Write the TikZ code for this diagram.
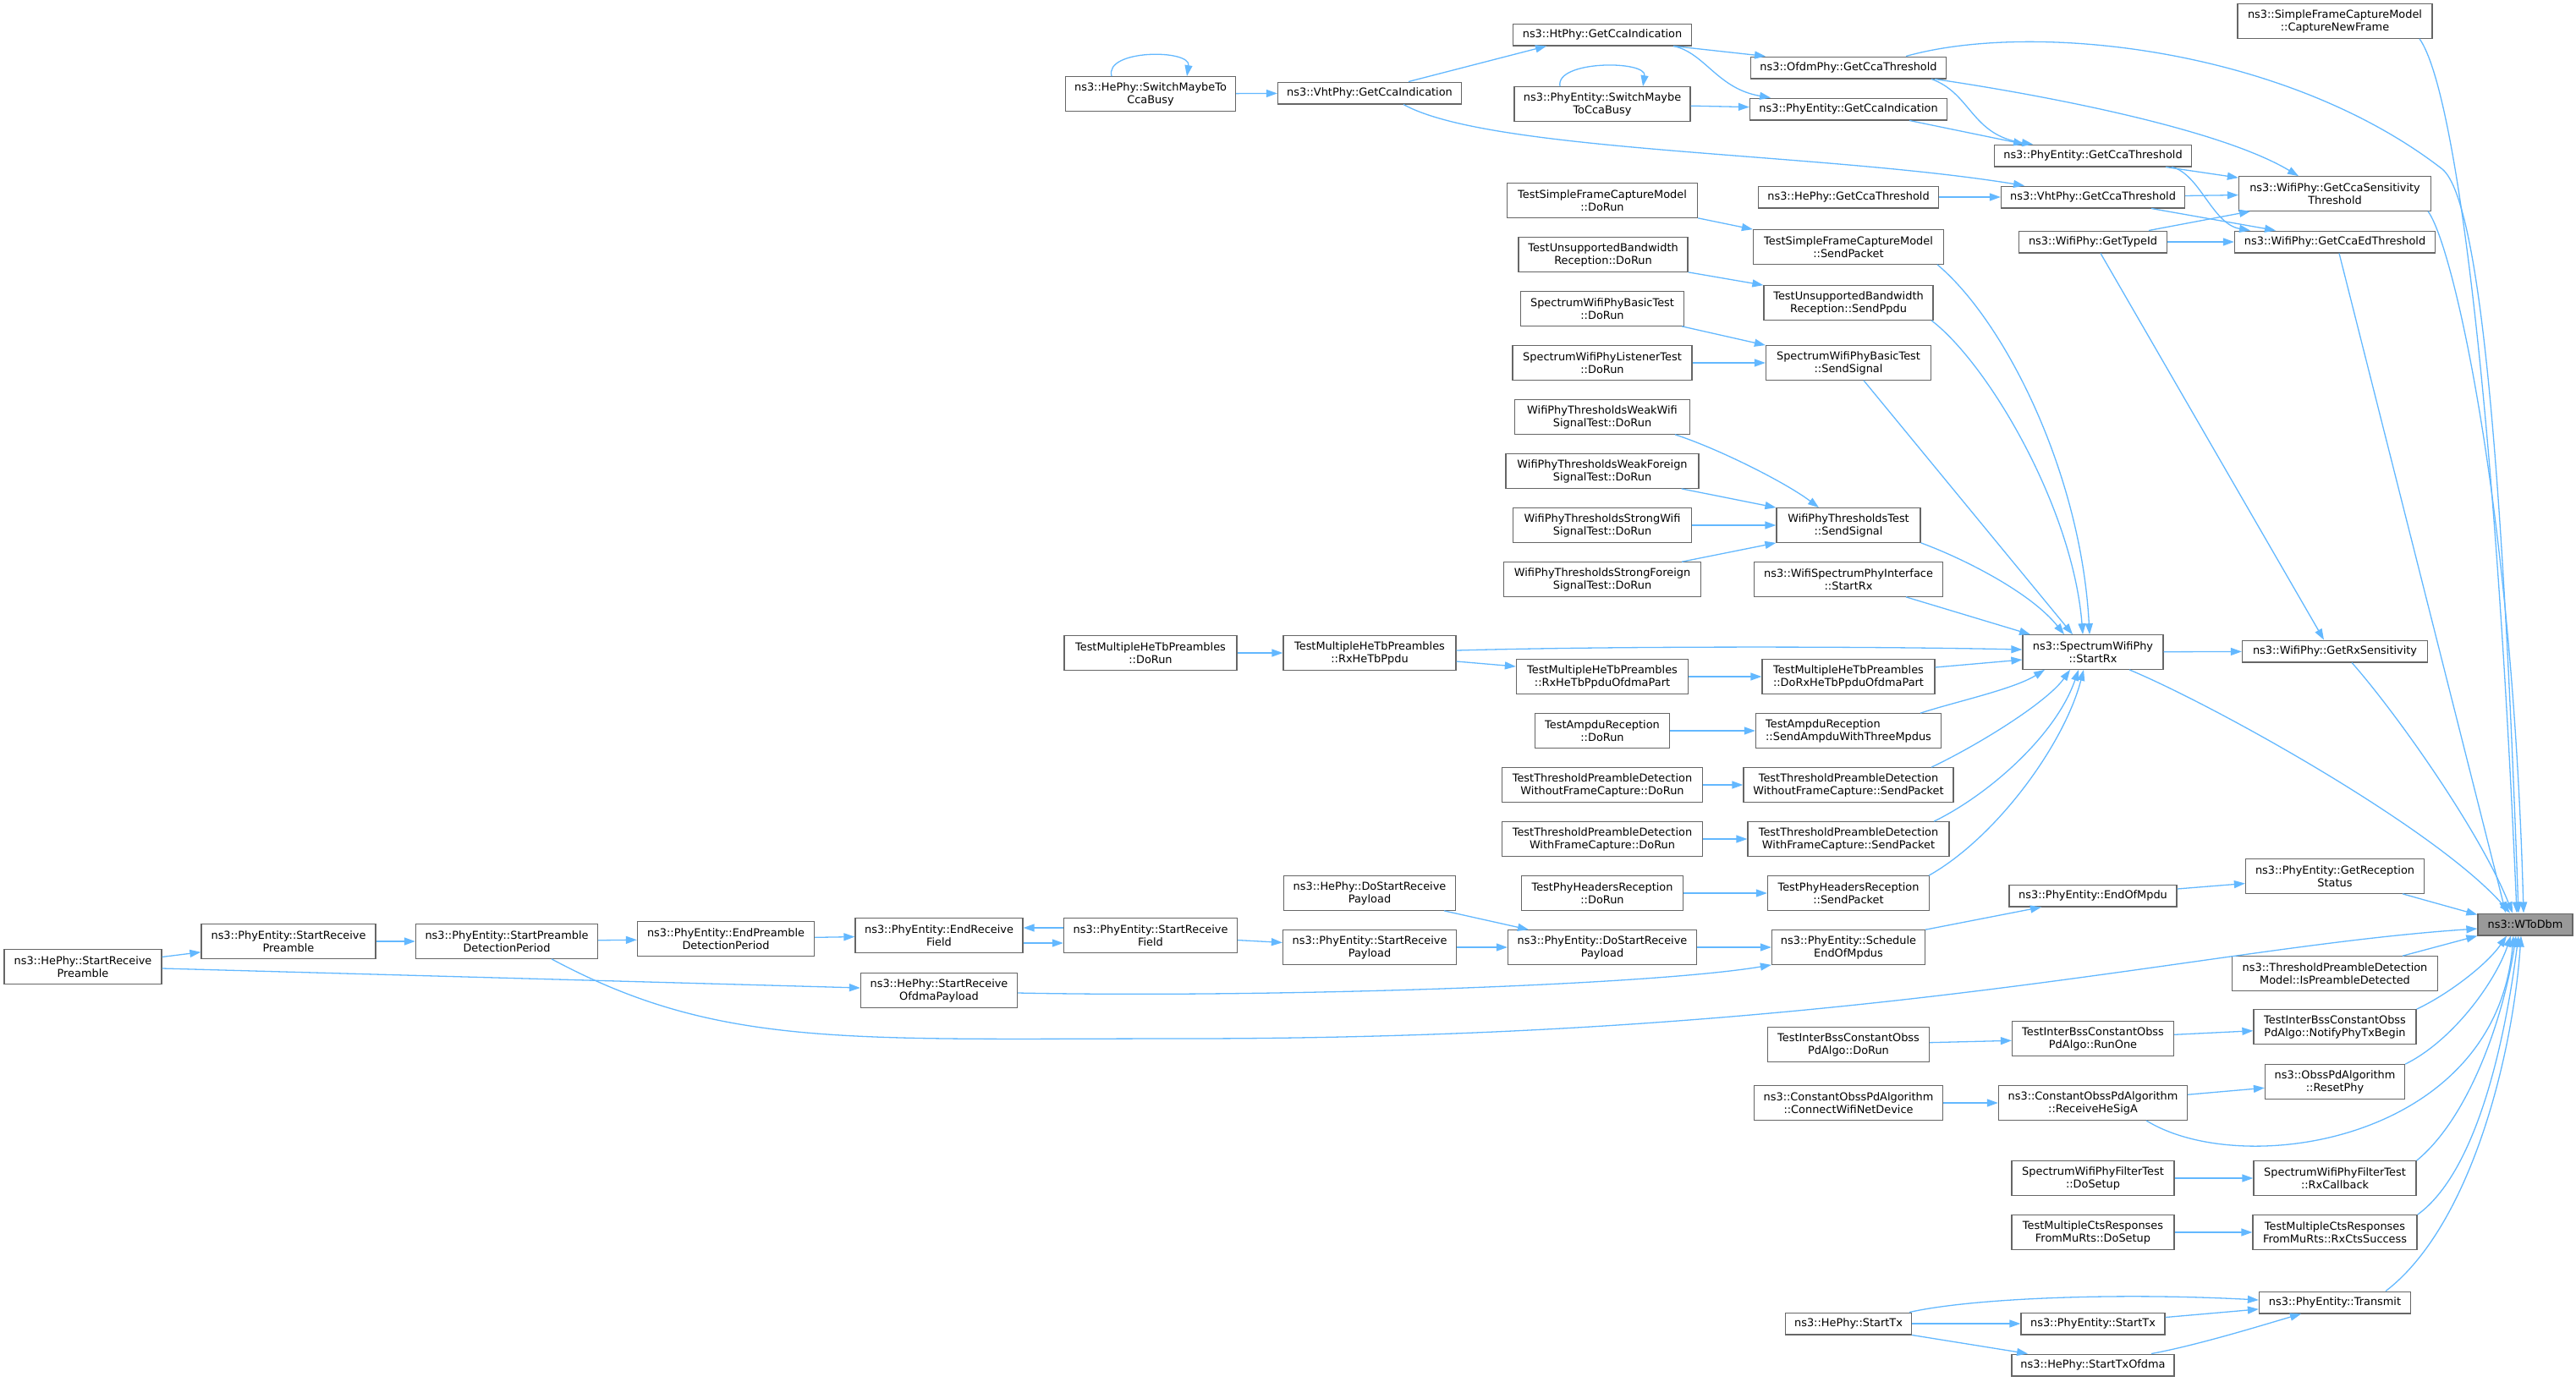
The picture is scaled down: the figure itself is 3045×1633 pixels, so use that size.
\documentclass[tikz,border=0pt]{standalone}
\usepackage{fontspec}
\setmainfont{DejaVu Sans}
\usetikzlibrary{arrows.meta}
\definecolor{edgeblue}{HTML}{63B8FF}
\definecolor{boxline}{HTML}{666666}
\definecolor{rootfill}{HTML}{999999}
\begin{document}
\begin{tikzpicture}[x=1pt,y=-1pt,>={Triangle[length=13pt,width=9pt]},
  fnbox/.style={draw=boxline,line width=1.3pt,fill=white,inner sep=0pt,minimum height=25.7pt,align=center,font=\fontsize{12.9}{15}\selectfont},
  fnbox2/.style={fnbox,minimum height=40.4pt},
  rootbox/.style={fnbox,fill=rootfill},
  calls/.style={->,draw=edgeblue,line width=1.3pt}]
\useasboundingbox (0,0) rectangle (3045,1633);
\node[fnbox2,minimum width=201pt] (sw_he) at (1360,111) {ns3::HePhy::SwitchMaybeTo\\CcaBusy};
\node[fnbox,minimum width=217pt] (vht_ind) at (1619,110) {ns3::VhtPhy::GetCcaIndication};
\node[fnbox,minimum width=211pt] (ht_ind) at (1894,41) {ns3::HtPhy::GetCcaIndication};
\node[fnbox2,minimum width=208pt] (sw_pe) at (1894,123) {ns3::PhyEntity::SwitchMaybe\\ToCcaBusy};
\node[fnbox,minimum width=231pt] (ofdm_thr) at (2185,80) {ns3::OfdmPhy::GetCcaThreshold};
\node[fnbox,minimum width=233pt] (pe_ind) at (2185,129) {ns3::PhyEntity::GetCcaIndication};
\node[fnbox,minimum width=233pt] (pe_thr) at (2474,184) {ns3::PhyEntity::GetCcaThreshold};
\node[fnbox2,minimum width=230pt] (capture) at (2760,25) {ns3::SimpleFrameCaptureModel\\::CaptureNewFrame};
\node[fnbox2,minimum width=227pt] (ccasens) at (2760,229) {ns3::WifiPhy::GetCcaSensitivity\\Threshold};
\node[fnbox,minimum width=213pt] (he_thr) at (2185,233) {ns3::HePhy::GetCcaThreshold};
\node[fnbox,minimum width=217pt] (vht_thr) at (2474,233) {ns3::VhtPhy::GetCcaThreshold};
\node[fnbox,minimum width=175pt] (typeid) at (2474,286) {ns3::WifiPhy::GetTypeId};
\node[fnbox,minimum width=237pt] (ccaed) at (2760,286) {ns3::WifiPhy::GetCcaEdThreshold};
\node[fnbox2,minimum width=225pt] (sfc_run) at (1894,237) {TestSimpleFrameCaptureModel\\::DoRun};
\node[fnbox2,minimum width=225pt] (sfc_send) at (2185,292) {TestSimpleFrameCaptureModel\\::SendPacket};
\node[fnbox2,minimum width=200pt] (ubw_run) at (1895,301) {TestUnsupportedBandwidth\\Reception::DoRun};
\node[fnbox2,minimum width=200pt] (ubw_send) at (2185,358) {TestUnsupportedBandwidth\\Reception::SendPpdu};
\node[fnbox2,minimum width=193pt] (basic_run) at (1894,365) {SpectrumWifiPhyBasicTest\\::DoRun};
\node[fnbox2,minimum width=212pt] (listen_run) at (1894,429) {SpectrumWifiPhyListenerTest\\::DoRun};
\node[fnbox2,minimum width=195pt] (basic_send) at (2185,429) {SpectrumWifiPhyBasicTest\\::SendSignal};
\node[fnbox2,minimum width=207pt] (weakwifi) at (1894,493) {WifiPhyThresholdsWeakWifi\\SignalTest::DoRun};
\node[fnbox2,minimum width=228pt] (weakfor) at (1894,557) {WifiPhyThresholdsWeakForeign\\SignalTest::DoRun};
\node[fnbox2,minimum width=211pt] (strongwifi) at (1894,621) {WifiPhyThresholdsStrongWifi\\SignalTest::DoRun};
\node[fnbox2,minimum width=233pt] (strongfor) at (1894,685) {WifiPhyThresholdsStrongForeign\\SignalTest::DoRun};
\node[fnbox2,minimum width=170pt] (thr_send) at (2185,621) {WifiPhyThresholdsTest\\::SendSignal};
\node[fnbox2,minimum width=223pt] (wspi) at (2185,685) {ns3::WifiSpectrumPhyInterface\\::StartRx};
\node[fnbox2,minimum width=166pt] (startrx) at (2474,771) {ns3::SpectrumWifiPhy\\::StartRx};
\node[fnbox,minimum width=219pt] (rxsens) at (2760,770) {ns3::WifiPhy::GetRxSensitivity};
\node[fnbox2,minimum width=204pt] (mhe_run) at (1360,772) {TestMultipleHeTbPreambles\\::DoRun};
\node[fnbox2,minimum width=204pt] (mhe_rx) at (1619,772) {TestMultipleHeTbPreambles\\::RxHeTbPpdu};
\node[fnbox2,minimum width=203pt] (mhe_ofdma) at (1894,800) {TestMultipleHeTbPreambles\\::RxHeTbPpduOfdmaPart};
\node[fnbox2,minimum width=204pt] (mhe_dorx) at (2185,800) {TestMultipleHeTbPreambles\\::DoRxHeTbPpduOfdmaPart};
\node[fnbox2,minimum width=159pt] (ampdu_run) at (1894,864) {TestAmpduReception\\::DoRun};
\node[fnbox2,minimum width=219pt,align=left] (ampdu_send) at (2185,864) {TestAmpduReception\\::SendAmpduWithThreeMpdus};
\node[fnbox2,minimum width=237pt] (tpd_wo_run) at (1894,928) {TestThresholdPreambleDetection\\WithoutFrameCapture::DoRun};
\node[fnbox2,minimum width=248pt] (tpd_wo_send) at (2185,928) {TestThresholdPreambleDetection\\WithoutFrameCapture::SendPacket};
\node[fnbox2,minimum width=237pt] (tpd_w_run) at (1894,992) {TestThresholdPreambleDetection\\WithFrameCapture::DoRun};
\node[fnbox2,minimum width=238pt] (tpd_w_send) at (2185,992) {TestThresholdPreambleDetection\\WithFrameCapture::SendPacket};
\node[fnbox2,minimum width=203pt] (he_dsrp) at (1619,1056) {ns3::HePhy::DoStartReceive\\Payload};
\node[fnbox2,minimum width=191pt] (phr_run) at (1894,1056) {TestPhyHeadersReception\\::DoRun};
\node[fnbox2,minimum width=191pt] (phr_send) at (2185,1056) {TestPhyHeadersReception\\::SendPacket};
\node[fnbox,minimum width=198pt] (eom) at (2474,1059) {ns3::PhyEntity::EndOfMpdu};
\node[fnbox2,minimum width=211pt] (recstat) at (2760,1036) {ns3::PhyEntity::GetReception\\Status};
\node[rootbox,minimum width=112pt] (wtodbm) at (2985,1093) {ns3::WToDbm};
\node[fnbox2,minimum width=186pt] (he_srp) at (98,1143) {ns3::HePhy::StartReceive\\Preamble};
\node[fnbox2,minimum width=206pt] (pe_srp) at (341,1113) {ns3::PhyEntity::StartReceive\\Preamble};
\node[fnbox2,minimum width=215pt] (spdp) at (599,1113) {ns3::PhyEntity::StartPreamble\\DetectionPeriod};
\node[fnbox2,minimum width=209pt] (epdp) at (858,1110) {ns3::PhyEntity::EndPreamble\\DetectionPeriod};
\node[fnbox2,minimum width=198pt] (erf) at (1110,1106) {ns3::PhyEntity::EndReceive\\Field};
\node[fnbox2,minimum width=205pt] (srf) at (1360,1106) {ns3::PhyEntity::StartReceive\\Field};
\node[fnbox2,minimum width=205pt] (pe_srpl) at (1619,1120) {ns3::PhyEntity::StartReceive\\Payload};
\node[fnbox2,minimum width=223pt] (pe_dsrp) at (1894,1120) {ns3::PhyEntity::DoStartReceive\\Payload};
\node[fnbox2,minimum width=181pt] (sched) at (2185,1120) {ns3::PhyEntity::Schedule\\EndOfMpdus};
\node[fnbox2,minimum width=185pt] (he_srop) at (1110,1171) {ns3::HePhy::StartReceive\\OfdmaPayload};
\node[fnbox2,minimum width=243pt] (isdet) at (2760,1151) {ns3::ThresholdPreambleDetection\\Model::IsPreambleDetected};
\node[fnbox2,minimum width=192pt] (ib_notify) at (2760,1214) {TestInterBssConstantObss\\PdAlgo::NotifyPhyTxBegin};
\node[fnbox2,minimum width=191pt] (ib_runone) at (2474,1228) {TestInterBssConstantObss\\PdAlgo::RunOne};
\node[fnbox2,minimum width=191pt] (ib_run) at (2185,1235) {TestInterBssConstantObss\\PdAlgo::DoRun};
\node[fnbox2,minimum width=165pt] (resetphy) at (2760,1279) {ns3::ObssPdAlgorithm\\::ResetPhy};
\node[fnbox2,minimum width=223pt] (connect) at (2185,1304) {ns3::ConstantObssPdAlgorithm\\::ConnectWifiNetDevice};
\node[fnbox2,minimum width=223pt] (hesiga) at (2474,1304) {ns3::ConstantObssPdAlgorithm\\::ReceiveHeSigA};
\node[fnbox2,minimum width=192pt] (filt_setup) at (2474,1393) {SpectrumWifiPhyFilterTest\\::DoSetup};
\node[fnbox2,minimum width=192pt] (filt_rx) at (2760,1393) {SpectrumWifiPhyFilterTest\\::RxCallback};
\node[fnbox2,minimum width=192pt] (cts_setup) at (2474,1457) {TestMultipleCtsResponses\\FromMuRts::DoSetup};
\node[fnbox2,minimum width=194pt] (cts_rx) at (2760,1457) {TestMultipleCtsResponses\\FromMuRts::RxCtsSuccess};
\node[fnbox,minimum width=179pt] (transmit) at (2760,1540) {ns3::PhyEntity::Transmit};
\node[fnbox,minimum width=149pt] (he_tx) at (2185,1565) {ns3::HePhy::StartTx};
\node[fnbox,minimum width=170pt] (pe_tx) at (2474,1565) {ns3::PhyEntity::StartTx};
\node[fnbox,minimum width=192pt] (he_txofdma) at (2474,1614) {ns3::HePhy::StartTxOfdma};
\foreach \a/\b in {sw_he/vht_ind,sw_pe/pe_ind,he_thr/vht_thr,vht_thr/ccasens,typeid/ccaed,listen_run/basic_send,strongwifi/thr_send,mhe_run/mhe_rx,mhe_ofdma/mhe_dorx,ampdu_run/ampdu_send,tpd_wo_run/tpd_wo_send,tpd_w_run/tpd_w_send,phr_run/phr_send,startrx/rxsens,he_srp/pe_srp,pe_srp/spdp,spdp/epdp,epdp/erf,srf/pe_srpl,pe_srpl/pe_dsrp,pe_dsrp/sched,eom/recstat,ib_run/ib_runone,ib_runone/ib_notify,connect/hesiga,hesiga/resetphy,filt_setup/filt_rx,cts_setup/cts_rx,he_tx/pe_tx,pe_tx/transmit}
  \draw[calls] (\a) -- (\b);
\draw[calls] ([xshift=-46pt]sw_he.north) .. controls (1305,58) and (1408,58) .. ([xshift=43pt]sw_he.north);
\draw[calls] ([xshift=-50pt]sw_pe.north) .. controls (1838,71) and (1947,71) .. ([xshift=48pt]sw_pe.north);
\draw[calls] ([xshift=46pt]vht_ind.north) -- ([xshift=-66pt]ht_ind.south);
\draw[calls] ([xshift=40pt]vht_ind.south) .. controls (1760,180) and (2150,180) .. ([xshift=-81pt]vht_thr.north);
\draw[calls] ([xshift=84pt]ht_ind.south) -- ([xshift=-98pt]ofdm_thr.north);
\draw[calls] ([xshift=84pt]ht_ind.south) .. controls (2015,62) and (2030,105) .. ([xshift=-92pt]pe_ind.north);
\draw[calls] ([xshift=98pt]ofdm_thr.south) .. controls (2330,110) and (2330,160) .. ([xshift=-71pt]pe_thr.north);
\draw[calls] ([xshift=102pt]ofdm_thr.south) .. controls (2400,110) and (2620,150) .. ([xshift=-43pt]ccasens.north);
\draw[calls] ([xshift=68pt]ofdm_thr.north) .. controls (2400,25) and (2700,55) .. (2887,200) .. controls (2935,240) and (2960,600) .. ([xshift=-8pt]wtodbm.north);
\draw[calls] ([xshift=72pt]pe_ind.south) -- ([xshift=-81pt]pe_thr.north);
\draw[calls] ([xshift=86pt]pe_thr.south) -- ([yshift=-2pt]ccasens.north west);
\draw[calls] ([xshift=93pt]pe_thr.south) .. controls (2600,205) and (2615,265) .. ([xshift=-100pt]ccaed.north);
\draw[calls] ([xshift=69pt]vht_thr.south) -- ([xshift=-70pt]ccaed.north);
\draw[calls] ([xshift=66pt]typeid.north) -- ([xshift=-100pt]ccasens.south);
\draw[calls] ([xshift=9pt]typeid.south) -- ([xshift=-13pt]rxsens.north);
\draw[calls] ([xshift=100pt]capture.south) .. controls (2905,110) and (2950,500) .. ([xshift=-10pt]wtodbm.north);
\draw[calls] ([xshift=110pt]ccasens.south) .. controls (2900,290) and (2970,600) .. ([xshift=-2pt]wtodbm.north);
\draw[calls] ([xshift=5pt]ccaed.south) -- ([xshift=-23pt]wtodbm.north);
\draw[calls] ([xshift=20pt]rxsens.south) .. controls (2830,840) and (2930,980) .. ([xshift=-15pt]wtodbm.north);
\draw[calls] ([xshift=43pt]startrx.south) .. controls (2620,835) and (2880,980) .. ([xshift=-18pt]wtodbm.north);
\draw[calls] (sfc_run.south east) -- (sfc_send.north west);
\draw[calls] (ubw_run.south east) -- (ubw_send.north west);
\draw[calls] ([xshift=-3pt]basic_run.south east) -- (basic_send.north west);
\draw[calls] ([xshift=86pt]weakwifi.south) .. controls (2030,530) and (2110,570) .. ([xshift=-35pt]thr_send.north);
\draw[calls] ([xshift=-21pt]weakfor.south east) -- (thr_send.north west);
\draw[calls] ([xshift=-23pt]strongfor.north east) -- (thr_send.south west);
\draw[calls] ([xshift=105pt]sfc_send.south) .. controls (2370,380) and (2460,560) .. ([xshift=-4pt]startrx.north);
\draw[calls] ([xshift=98pt]ubw_send.south) .. controls (2350,430) and (2450,600) .. ([xshift=-12pt]startrx.north);
\draw[calls] ([xshift=18pt]basic_send.south) -- ([xshift=-24pt]startrx.north);
\draw[calls] (thr_send.south east) .. controls (2320,660) and (2400,700) .. ([xshift=-34pt]startrx.north);
\draw[calls] ([xshift=68pt]wspi.south) -- ([xshift=-74pt]startrx.north);
\draw[calls] ([yshift=3pt]mhe_rx.east) .. controls (1900,764) and (2200,764) .. ([yshift=3pt]startrx.west);
\draw[calls] ([yshift=-10pt]mhe_rx.east) -- ([yshift=12pt]mhe_ofdma.west);
\draw[calls] ([yshift=11pt]mhe_dorx.east) -- ([yshift=-9pt]startrx.west);
\draw[calls] ([xshift=85pt]ampdu_send.north) .. controls (2310,830) and (2380,815) .. ([xshift=-57pt]startrx.south);
\draw[calls] ([xshift=98pt]tpd_wo_send.north) .. controls (2340,880) and (2420,830) .. ([xshift=-27pt]startrx.south);
\draw[calls] ([xshift=101pt]tpd_w_send.north) .. controls (2350,940) and (2430,870) .. ([xshift=-17pt]startrx.south);
\draw[calls] ([xshift=95pt]phr_send.north) .. controls (2360,990) and (2440,880) .. ([xshift=-11pt]startrx.south);
\draw[calls] ([yshift=-2pt]he_srp.east) -- ([yshift=3pt]he_srop.west);
\draw[calls] ([yshift=9pt]srf.west) -- ([yshift=9pt]erf.east);
\draw[calls] ([yshift=-9pt]erf.east) -- ([yshift=-9pt]srf.west);
\draw[calls] ([xshift=88pt]he_dsrp.south) -- ([xshift=-87pt]pe_dsrp.north);
\draw[calls] ([yshift=-3pt]he_srop.east) .. controls (1500,1180) and (1950,1165) .. (sched.south west);
\draw[calls] (sched.north east) -- ([xshift=-61pt]eom.south);
\draw[calls] ([xshift=80pt]recstat.south) -- ([yshift=-2pt]wtodbm.north west);
\draw[calls] ([xshift=53pt]spdp.south) .. controls (850,1240) and (1000,1228) .. (1400,1228) .. controls (2200,1228) and (2600,1120) .. ([yshift=-5pt]wtodbm.west);
\draw[calls] ([xshift=80pt]isdet.north) -- (wtodbm.south west);
\draw[calls] (ib_notify.north east) .. controls (2895,1175) and (2940,1140) .. ([xshift=-22pt]wtodbm.south);
\draw[calls] ([xshift=63pt]hesiga.south) .. controls (2650,1395) and (2950,1350) .. ([xshift=-14pt]wtodbm.south);
\draw[calls] (resetphy.north east) .. controls (2900,1230) and (2950,1160) .. ([xshift=-17pt]wtodbm.south);
\draw[calls] (filt_rx.north east) .. controls (2920,1320) and (2960,1200) .. ([xshift=-11pt]wtodbm.south);
\draw[calls] (cts_rx.north east) .. controls (2935,1380) and (2965,1200) .. ([xshift=-8pt]wtodbm.south);
\draw[calls] ([xshift=60pt]transmit.north) .. controls (2920,1450) and (2970,1250) .. ([xshift=-5pt]wtodbm.south);
\draw[calls] ([xshift=72pt]he_tx.north) .. controls (2330,1535) and (2500,1528) .. ([yshift=3pt]transmit.west);
\draw[calls] (he_tx.south east) -- ([xshift=-77pt]he_txofdma.north);
\draw[calls] ([xshift=69pt]he_txofdma.north) .. controls (2600,1590) and (2680,1565) .. ([xshift=-40pt]transmit.south);
\end{tikzpicture}
\end{document}
